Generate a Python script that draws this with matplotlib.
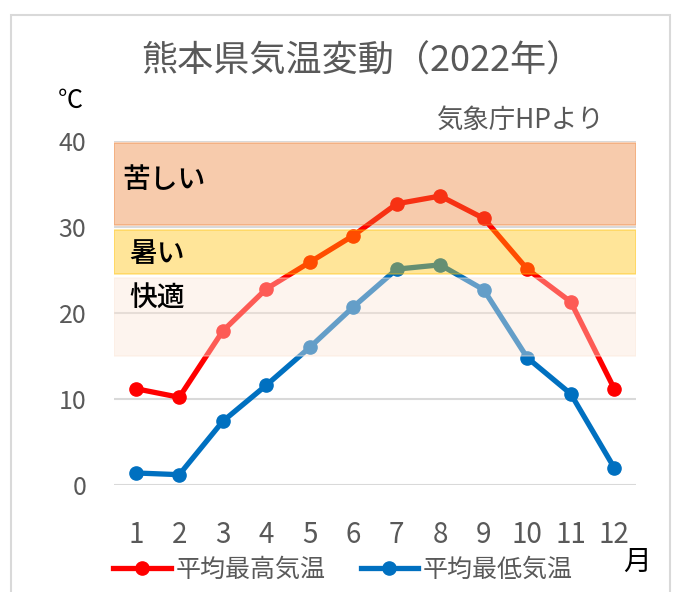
import matplotlib
matplotlib.use("Agg")
import matplotlib.pyplot as plt
from matplotlib.patches import Rectangle
from matplotlib.lines import Line2D

plt.rcParams['font.family'] = ['Noto Sans CJK JP', 'DejaVu Sans']

# データ（気象庁HPより、2022年 熊本）
months = list(range(1, 13))
month_labels = [str(m) for m in months]
high = [11.2, 10.2, 17.9, 22.8, 25.9, 29.0, 32.7, 33.6, 31.0, 25.1, 21.3, 11.2]
low = [1.4, 1.2, 7.4, 11.6, 16.0, 20.7, 25.1, 25.6, 22.7, 14.8, 10.6, 2.0]
series_names = ["平均最高気温", "平均最低気温"]
yticks = [0, 10, 20, 30, 40]

# 快適・暑い・苦しい の帯 (下限, 上限)
band_names = ["快適", "暑い", "苦しい"]
band_ranges = [(15, 24.1), (24.5, 29.7), (30.2, 39.8)]

grey = "#595959"
W, H = 678, 592
fig = plt.figure(figsize=(W / 100, H / 100), dpi=100)
ax = fig.add_axes([114 / W, 1 - 485 / H, (636 - 114) / W, (485 - 141) / H])

# 外枠
fig.patches.append(Rectangle((11 / W, -0.05), (670 - 11) / W, 1.05 - 15 / H,
                             transform=fig.transFigure, fill=False,
                             edgecolor="#D9D9D9", linewidth=1.5))

# 線
ax.plot(months, high, color="#FF0000", lw=3.8, marker="o", ms=9.5, zorder=2)
ax.plot(months, low, color="#0070C0", lw=3.8, marker="o", ms=9.5, zorder=2)

# 帯（半透明で線の上に重ねる）
band_fill = ["#FBE5D6", "#FFC000", "#ED7D31"]
for (lo, hi), c in zip(band_ranges, band_fill):
    ax.axhspan(lo, hi, facecolor=c, edgecolor=c, alpha=0.4, lw=1.2, zorder=3)

ax.set_xlim(0.5, 12.5)
ax.set_ylim(0, 40)
ax.set_yticks(yticks)
ax.set_xticks(months)
ax.set_xticklabels(month_labels)
ax.grid(axis="y", color="#D9D9D9", lw=1.5, zorder=0)
ax.set_axisbelow(True)
for s in ax.spines.values():
    s.set_visible(False)
ax.tick_params(axis="y", length=0, pad=20, labelsize=18, labelcolor=grey)
ax.tick_params(axis="x", length=0, pad=25, labelsize=20, labelcolor=grey)

# 帯のラベル
label_pos = [(129, 298), (129, 253), (122, 180)]
for name, (px, py) in zip(band_names, label_pos):
    fig.text(px / W, 1 - py / H, name, fontsize=20, color="black",
             fontweight="medium", ha="left", va="center", zorder=5)

# タイトルなど
fig.text(362 / W, 1 - 62 / H, "熊本県気温変動（2022年）", fontsize=26,
         color=grey, ha="center", va="center")
fig.text(70 / W, 1 - 101 / H, "℃", fontsize=18, color="black",
         ha="center", va="center")
fig.text(604 / W, 1 - 120 / H, "気象庁HPより", fontsize=19, color=grey,
         ha="right", va="center")
fig.text(637 / W, 1 - 562 / H, "月", fontsize=20, color="black",
         ha="center", va="center")

# 凡例
handles = [Line2D([], [], color="#FF0000", lw=3.8, marker="o", ms=9.5),
           Line2D([], [], color="#0070C0", lw=3.8, marker="o", ms=9.5)]
fig.legend(handles, series_names, loc="center left",
           bbox_to_anchor=(113 / W, 1 - 570 / H), ncol=2, frameon=False,
           handlelength=2.3, handletextpad=0.2, columnspacing=1.4,
           borderaxespad=0, borderpad=0, fontsize=18, labelcolor=grey)

fig.savefig("out.png", dpi=100)
